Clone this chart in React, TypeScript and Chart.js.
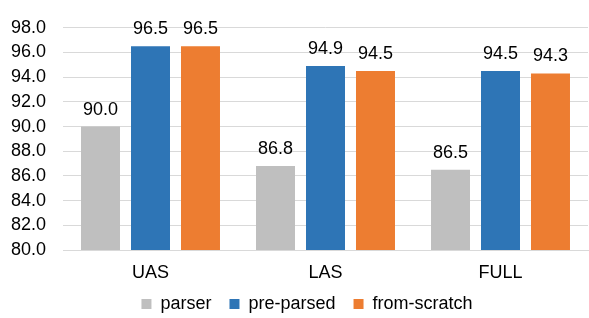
import React, { useEffect, useRef } from "react";
import { Chart, registerables } from "chart.js";

Chart.register(...registerables);

const categories = ["UAS", "LAS", "FULL"];
const parser = [90.0, 86.8, 86.5];
const preParsed = [96.5, 94.9, 94.5];
const fromScratch = [96.5, 94.5, 94.3];

const FONT = "'Liberation Sans', Arial, sans-serif";
const FS = 18;

const valueLabels = {
  id: "valueLabels",
  afterDatasetsDraw(chart: any) {
    const ctx = chart.ctx;
    ctx.save();
    ctx.font = `${FS}px ${FONT}`;
    ctx.fillStyle = "#000";
    ctx.textAlign = "center";
    ctx.textBaseline = "alphabetic";
    chart.data.datasets.forEach((ds: any, i: number) => {
      const meta = chart.getDatasetMeta(i);
      meta.data.forEach((bar: any, j: number) => {
        ctx.fillText(Number(ds.data[j]).toFixed(1), bar.x, bar.y - 12);
      });
    });
    ctx.restore();
  },
};

const layoutTweaks = {
  id: "layoutTweaks",
  beforeLayout(chart: any) {
    const lg = chart.legend;
    if (lg && !lg.__patched) {
      const orig = lg.fit.bind(lg);
      lg.fit = function () {
        orig();
        this.height = 45;
      };
      lg.__patched = true;
    }
  },
  afterLayout(chart: any) {
    const lg = chart.legend;
    if (lg) {
      lg.top += 4;
      lg.bottom += 4;
      lg.left += 8;
      lg.right += 8;
    }
    const x = chart.scales.x;
    if (x) x.bottom = chart.height;
  },
};

export default function App() {
  const ref = useRef<HTMLCanvasElement>(null);
  useEffect(() => {
    document.body.style.margin = "0";
    const chart = new Chart(ref.current!, {
      type: "bar",
      data: {
        labels: categories,
        datasets: [
          { label: "parser", data: parser, backgroundColor: "#bfbfbf" },
          { label: "pre-parsed", data: preParsed, backgroundColor: "#2e75b6" },
          { label: "from-scratch", data: fromScratch, backgroundColor: "#ed7d31" },
        ],
      },
      options: {
        animation: false,
        responsive: false,
        layout: { autoPadding: false, padding: { top: 23, right: 1, left: 10, bottom: 0 } },
        datasets: { bar: { categoryPercentage: 0.857, barPercentage: 0.78 } },
        scales: {
          x: {
            grid: { display: false, drawTicks: false },
            border: { display: true, color: "#d9d9d9" },
            ticks: { color: "#000", font: { family: FONT, size: FS }, padding: 12 },
            afterFit: (s: any) => {
              s.height = 23;
            },
          },
          y: {
            min: 80,
            max: 98,
            border: { display: false },
            grid: { color: "#d9d9d9", drawTicks: false },
            ticks: {
              stepSize: 2,
              autoSkip: false,
              color: "#000",
              padding: 17,
              font: { family: FONT, size: FS },
              callback: (v: any) => Number(v).toFixed(1),
            },
            afterFit: (s: any) => {
              s.width = 53;
            },
          },
        },
        plugins: {
          legend: {
            position: "bottom",
            labels: {
              color: "#000",
              font: { family: FONT, size: FS },
              boxWidth: 10,
              boxHeight: 10,
              padding: 18,
            },
          },
          tooltip: { enabled: false },
        },
      },
      plugins: [layoutTweaks, valueLabels],
    });
    return () => chart.destroy();
  }, []);
  return (
    <div style={{ width: 589, height: 318 }}>
      <canvas ref={ref} width={589} height={318} />
    </div>
  );
}
